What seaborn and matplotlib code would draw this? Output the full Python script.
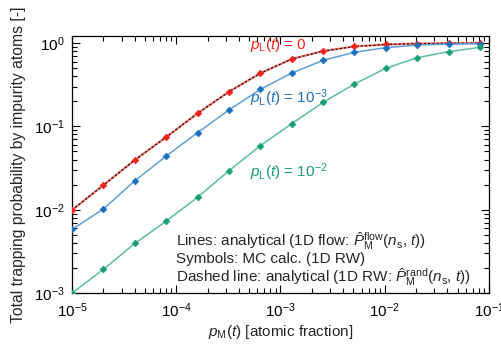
import numpy as np
import pandas as pd
import matplotlib
matplotlib.use("Agg")
import matplotlib.pyplot as plt
import seaborn as sns

# ---- data ----
p_m = [1e-5, 2e-5, 4e-5, 8e-5, 1.6e-4, 3.2e-4, 6.4e-4, 1.28e-3,
       2.56e-3, 5.12e-3, 1.024e-2, 2.048e-2, 4.096e-2, 8.192e-2]
trap_pl0 = [0.0099, 0.0197, 0.0394, 0.0744, 0.143, 0.26, 0.433, 0.643,
            0.80, 0.91, 0.96, 0.985, 0.995, 1.0]
trap_pl1e3 = [0.0058, 0.0102, 0.0222, 0.044, 0.084, 0.157, 0.278, 0.436,
              0.62, 0.773, 0.88, 0.946, 0.97, 0.98]
trap_pl1e2 = [0.001, 0.00192, 0.00394, 0.0073, 0.0141, 0.0293, 0.0586, 0.1076,
              0.194, 0.322, 0.497, 0.667, 0.787, 0.887]
series_names = ["pL0", "pL1e-3", "pL1e-2"]

df = pd.DataFrame({
    "p": p_m * 3,
    "P": trap_pl0 + trap_pl1e3 + trap_pl1e2,
    "series": sum([[s] * len(p_m) for s in series_names], []),
})

sns.set_theme(style="ticks")
plt.rcParams["font.family"] = ["Liberation Sans", "DejaVu Sans"]
plt.rcParams["mathtext.fontset"] = "custom"
plt.rcParams["mathtext.rm"] = "Liberation Sans"
plt.rcParams["mathtext.it"] = "Liberation Sans:italic"
plt.rcParams["mathtext.bf"] = "Liberation Sans:bold"

marker_cols = {"pL0": "#f5221b", "pL1e-3": "#1a6fbf", "pL1e-2": "#17a06f"}
line_cols = {"pL0": "#ff7a70", "pL1e-3": "#5f9fd6", "pL1e-2": "#5cbf96"}

fig = plt.figure(figsize=(5.01, 3.44), dpi=100)
ax = fig.add_axes([0.1437, 0.148, 0.8323, 0.747])

for s in series_names:
    d = df[df["series"] == s]
    sns.lineplot(data=d, x="p", y="P", ax=ax, color=line_cols[s],
                 lw=1.6 if s == "pL0" else 1.1,
                 estimator=None, sort=False, legend=False)
    if s == "pL0":
        sns.lineplot(data=d, x="p", y="P", ax=ax, color="black", lw=0.8,
                     linestyle=(0, (2.0, 1.8)),
                     estimator=None, sort=False, legend=False)
    sns.scatterplot(data=d, x="p", y="P", ax=ax, color=marker_cols[s],
                    marker="D", s=11, edgecolor=marker_cols[s], linewidth=0.6,
                    legend=False, zorder=5)

ax.set_xscale("log")
ax.set_yscale("log")
ax.set_xlim(1e-5, 1e-1)
ax.set_ylim(1e-3, 1.21)

for sp in ax.spines.values():
    sp.set_visible(True)
    sp.set_color("black")
    sp.set_linewidth(0.9)

ax.tick_params(which="both", direction="in", top=True, right=True,
               colors="black", labelsize=11, width=0.8)
ax.tick_params(which="major", length=6)
ax.tick_params(which="minor", length=3.5)
ax.tick_params(axis="x", which="both", pad=6)
ax.tick_params(axis="y", which="both", pad=5)
ax.xaxis.set_minor_locator(matplotlib.ticker.LogLocator(base=10, subs=np.arange(2, 10)))
ax.yaxis.set_minor_locator(matplotlib.ticker.LogLocator(base=10, subs=np.arange(2, 10)))
ax.xaxis.set_minor_formatter(matplotlib.ticker.NullFormatter())
ax.yaxis.set_minor_formatter(matplotlib.ticker.NullFormatter())

ax.set_xlabel(r"$p_\mathrm{M}(t)$ [atomic fraction]", fontsize=11, labelpad=2)
ax.set_ylabel("Total trapping probability by impurity atoms [-]", fontsize=11.3, labelpad=6)

ax.text(0.426, 0.965, r"$p_\mathrm{L}(t)$ = 0", transform=ax.transAxes,
        color=marker_cols["pL0"], fontsize=11, va="center", ha="left")
ax.text(0.426, 0.76, r"$p_\mathrm{L}(t)$ = 10$^{-3}$", transform=ax.transAxes,
        color=marker_cols["pL1e-3"], fontsize=11, va="center", ha="left")
ax.text(0.426, 0.47, r"$p_\mathrm{L}(t)$ = 10$^{-2}$", transform=ax.transAxes,
        color=marker_cols["pL1e-2"], fontsize=11, va="center", ha="left")

ax.text(0.25, 0.203, r"Lines: analytical (1D flow: $\hat{P}_\mathrm{M}^\mathrm{flow}$($n_\mathrm{s}$, $t$))",
        transform=ax.transAxes, fontsize=11, va="center", ha="left")
ax.text(0.25, 0.133, "Symbols: MC calc. (1D RW)",
        transform=ax.transAxes, fontsize=11, va="center", ha="left")
ax.text(0.25, 0.062, r"Dashed line: analytical (1D RW: $\hat{P}_\mathrm{M}^\mathrm{rand}$($n_\mathrm{s}$, $t$))",
        transform=ax.transAxes, fontsize=11, va="center", ha="left")

fig.savefig("out.png", dpi=100)
